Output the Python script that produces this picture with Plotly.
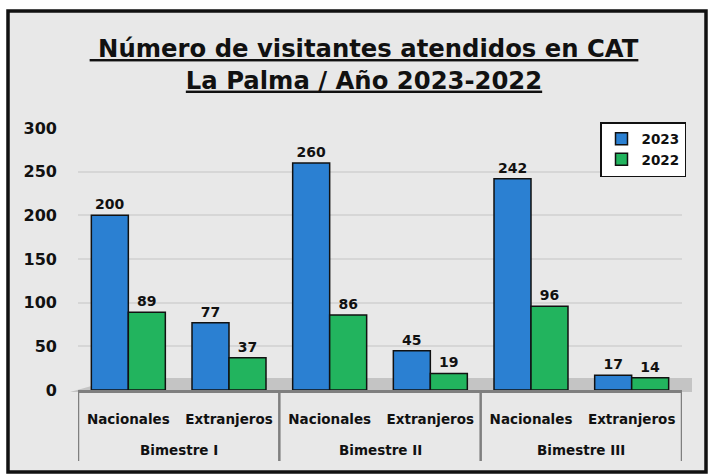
import plotly.graph_objects as go

bimestres = ["Bimestre I", "Bimestre II", "Bimestre III"]
tipos = ["Nacionales", "Extranjeros"]
v2023 = [200, 77, 260, 45, 242, 17]
v2022 = [89, 37, 86, 19, 96, 14]
y_ticks = [0, 50, 100, 150, 200, 250, 300]

FONT = "DejaVu Sans"
W, H = 708, 475
L, R, T, B = 78, 26, 128, 85
pw, ph = W - L - R, H - T - B


def px(x):
    return (x - L) / pw


def py(y):
    return (H - B - y) / ph


n_t = len(tipos)
xs = list(range(len(bimestres) * n_t))
xlabels = [tipos[i % n_t] for i in xs]

fig = go.Figure()
fig.add_trace(go.Bar(
    x=xs, y=v2023, name="2023",
    marker=dict(color="#2B80D2", line=dict(color="#111111", width=1.5)),
    text=v2023, textposition="outside", cliponaxis=False,
    textfont=dict(family=FONT, size=14, color="#111111", weight="bold"),
))
fig.add_trace(go.Bar(
    x=xs, y=v2022, name="2022",
    marker=dict(color="#22B45E", line=dict(color="#111111", width=1.5)),
    text=v2022, textposition="outside", cliponaxis=False,
    textfont=dict(family=FONT, size=14, color="#111111", weight="bold"),
))

frame = dict(type="rect", xref="paper", yref="paper",
             x0=px(8), x1=px(706), y0=py(472), y1=py(11),
             line=dict(color="#111111", width=3.5), fillcolor="#E8E8E8", layer="below")
floor = dict(type="path", xref="paper", yref="paper", layer="below",
             path=f"M {px(70)},{py(392)} L {px(692)},{py(392)} L {px(692)},{py(378)} L {px(120)},{py(378)} Z",
             fillcolor="#C4C4C4", line=dict(width=0))

shapes = [frame, floor]
annotations = []
for g, name in enumerate(bimestres):
    left = g * n_t - 0.5
    shapes.append(dict(type="line", xref="x", yref="paper", x0=left, x1=left,
                       y0=0, y1=py(461), line=dict(color="#7F7F7F", width=2.5)))
    annotations.append(dict(x=g * n_t + (n_t - 1) / 2, xref="x", y=py(450), yref="paper",
                            text=name, showarrow=False, yanchor="middle",
                            font=dict(family=FONT, size=13.5, color="#111111", weight="bold")))
right = len(bimestres) * n_t - 0.5
shapes.append(dict(type="line", xref="x", yref="paper", x0=right, x1=right,
                   y0=0, y1=py(461), line=dict(color="#7F7F7F", width=2.5)))

fig.update_layout(
    width=W, height=H,
    margin=dict(l=L, r=R, t=T, b=B),
    paper_bgcolor="white", plot_bgcolor="rgba(0,0,0,0)",
    barmode="group", bargap=0.265, bargroupgap=0,
    font=dict(family=FONT, color="#111111"),
    title=dict(
        text='<span style="text-decoration:underline"> Número de visitantes atendidos en CAT</span><br>'
             '<span style="text-decoration:underline">La Palma / Año 2023-2022</span>',
        x=364 / W, xanchor="center", y=1 - 57 / H, yanchor="top",
        font=dict(family=FONT, size=24.3, color="#111111", weight="bold"),
    ),
    legend=dict(
        x=px(686), xanchor="right", y=py(122), yanchor="top",
        bgcolor="white", bordercolor="#111111", borderwidth=1.5,
        font=dict(family=FONT, size=13.5, color="#111111", weight="bold"),
        itemwidth=30, tracegroupgap=0,
    ),
    showlegend=True,
    shapes=shapes,
    annotations=annotations,
)
fig.update_xaxes(
    range=[-0.5, len(xs) - 0.5], tickvals=xs, ticktext=xlabels,
    showline=True, linecolor="#7F7F7F", linewidth=2.5,
    tickfont=dict(family=FONT, size=13.5, color="#111111", weight="bold"),
    ticklabelstandoff=15, ticks="",
    showgrid=False, zeroline=False,
)
fig.update_yaxes(
    range=[0, 300], tickvals=y_ticks, showgrid=True, gridcolor="#D6D6D6", gridwidth=1.5,
    zeroline=False, tickfont=dict(family=FONT, size=16, color="#111111", weight="bold"),
    ticklabelstandoff=20,
)
fig.write_html(
    "out.html",
    config={"displayModeBar": False},
    post_script="document.body.style.margin='0';document.body.style.overflow='hidden';"
                "document.documentElement.style.overflow='hidden';",
)
